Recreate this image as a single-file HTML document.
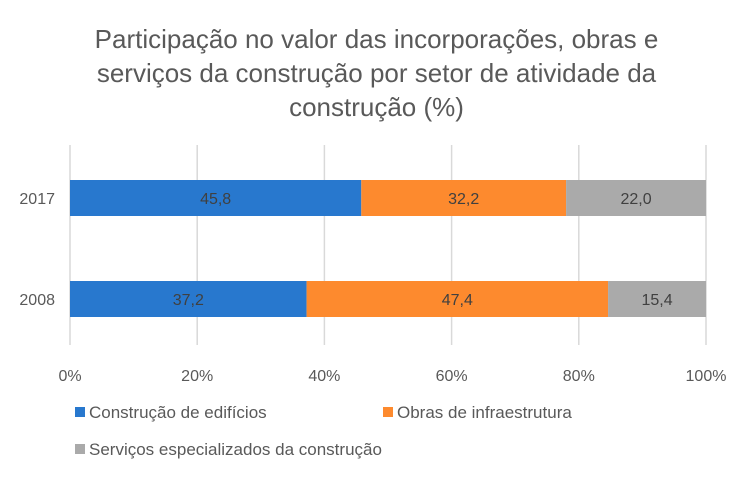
<!DOCTYPE html>
<html><head><meta charset="utf-8"><style>
body{margin:0;background:#fff;width:753px;height:479px;overflow:hidden;font-family:"Liberation Sans",sans-serif}
.t{position:absolute;left:0;width:753px;text-align:center;color:#595959;font-size:26px;line-height:34px;top:22px}
</style></head><body>
<div class="t">Participação no valor das incorporações, obras e<br>serviços da construção por setor de atividade da<br>construção (%)</div>
<svg id="c" width="753" height="479" style="position:absolute;left:0;top:0"></svg>
<script>
const categories=["2017","2008"];
const s1=[45.8,37.2];
const s2=[32.2,47.4];
const s3=[22.0,15.4];
const ticks=[0,20,40,60,80,100];
const names=["Construção de edifícios","Obras de infraestrutura","Serviços especializados da construção"];
const colors=["#2878ce","#fd8a2e","#aaaaaa"];
const svg=document.getElementById('c');const NS="http://www.w3.org/2000/svg";
const x=v=>70+v*6.36;
const yTop=[180,281],bh=36;
function mk(t,a,p){const e=document.createElementNS(NS,t);for(const k in a)e.setAttribute(k,a[k]);(p||svg).appendChild(e);return e;}
ticks.forEach(t=>{const l=mk('line',{x1:x(t),x2:x(t),y1:145,y2:345,stroke:'#d9d9d9','stroke-width':1.5});


const tx=mk('text',{x:x(t),y:381,'text-anchor':'middle','font-size':16,fill:'#595959'});tx.textContent=t+'%';

});
const series=[s1,s2,s3];
categories.forEach((c,i)=>{const lb=mk('text',{x:55,y:yTop[i]+bh/2+6,'text-anchor':'end','font-size':16,fill:'#595959'});lb.textContent=c;


let acc=0;series.forEach((s,j)=>{const r=mk('rect',{x:x(acc),y:yTop[i],width:x(acc+s[i])-x(acc),height:bh,fill:colors[j]});


const tx=mk('text',{x:(x(acc)+x(acc+s[i]))/2,y:yTop[i]+bh/2+6,'text-anchor':'middle','font-size':16,fill:'#404040'});tx.textContent=s[i].toFixed(1).replace('.',',');


acc+=s[i];});});
const lp=[[75,412],[383,412],[75,449]];
names.forEach((n,j)=>{const g=mk('g',{});

mk('rect',{x:lp[j][0],y:lp[j][1]-5,width:10,height:10,fill:colors[j]},g);
const tx=mk('text',{x:lp[j][0]+14,y:lp[j][1]+6,'font-size':17,fill:'#595959'},g);tx.textContent=n;});
</script>
</body></html>
